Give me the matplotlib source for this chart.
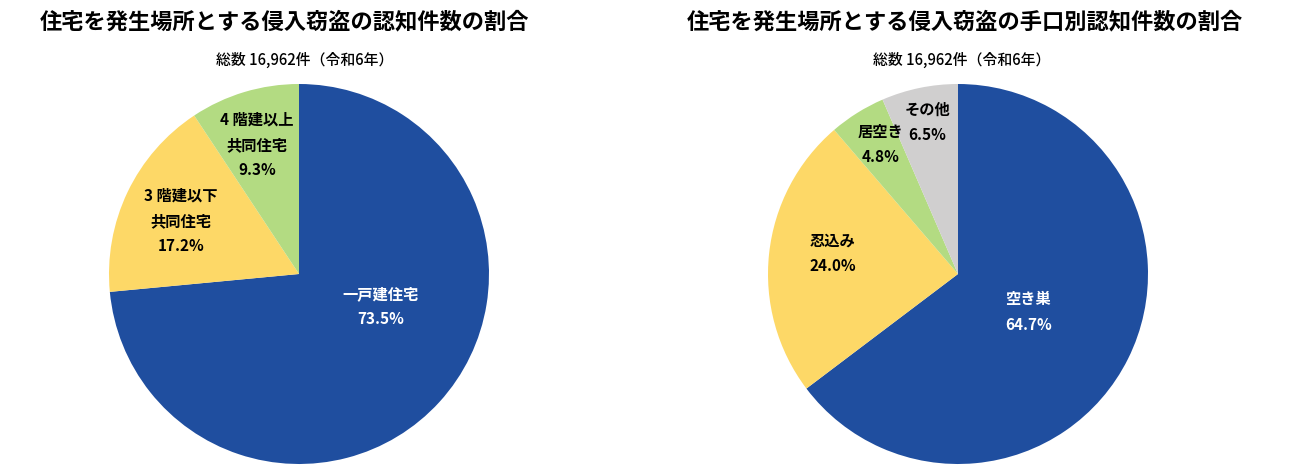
import matplotlib
matplotlib.use('Agg')
import matplotlib.pyplot as plt

plt.rcParams['font.family'] = ['Noto Sans CJK JP', 'DejaVu Sans']

# Data ------------------------------------------------------------------------

title_left = '住宅を発生場所とする侵入窃盗の認知件数の割合'
title_right = '住宅を発生場所とする侵入窃盗の手口別認知件数の割合'
subtitle = '総数 16,962件（令和6年）'

place_labels = ['一戸建住宅', '3 階建以下\n共同住宅', '4 階建以上\n共同住宅']
place_values = [73.5, 17.2, 9.3]

method_labels = ['空き巣', '忍込み', '居空き', 'その他']
method_values = [64.7, 24.0, 4.8, 6.5]

# Styles ----------------------------------------------------------------------

blue = '#1F4E9F'
yellow = '#FDD867'
green = '#B3DB82'
grey = '#D0CFCF'

place_colors = [blue, yellow, green]
method_colors = [blue, yellow, green, grey]

# label anchors in pie units (radius 1)
place_pos = [(0.43, -0.17), (-0.62, 0.28), (-0.22, 0.68)]
method_pos = [(0.37, -0.20), (-0.66, 0.11), (-0.41, 0.68), (-0.16, 0.80)]

W, H = 1289, 476
fig = plt.figure(figsize=(W / 100, H / 100), dpi=100)


def draw_pie(cx, values, labels, colors, pos):
    R = 190
    ax = fig.add_axes([(cx - R) / W, 12 / H, 2 * R / W, 2 * R / H])
    ax.pie(values, colors=colors, startangle=90, counterclock=False,
           radius=1, wedgeprops=dict(linewidth=0))
    for lab, val, col, (x, y) in zip(labels, values, colors, pos):
        tc = 'white' if col == blue else 'black'
        ax.text(x, y, '%s\n%.1f%%' % (lab, val), ha='center', va='center',
                fontsize=11, color=tc, fontweight='bold', linespacing=1.7)
    ax.set_xlim(-1, 1)
    ax.set_ylim(-1, 1)
    ax.set_aspect('equal')
    ax.axis('off')


draw_pie(299, place_values, place_labels, place_colors, place_pos)
draw_pie(958, method_values, method_labels, method_colors, method_pos)

fig.text(285 / W, 1 - 22 / H, title_left, ha='center', va='center',
         fontsize=16, fontweight='bold')
fig.text(965 / W, 1 - 22 / H, title_right, ha='center', va='center',
         fontsize=16, fontweight='bold')
fig.text(305 / W, 1 - 60 / H, subtitle, ha='center', va='center',
         fontsize=10.7, fontweight='medium')
fig.text(962 / W, 1 - 60 / H, subtitle, ha='center', va='center',
         fontsize=10.7, fontweight='medium')

fig.savefig('out.png', dpi=100)
